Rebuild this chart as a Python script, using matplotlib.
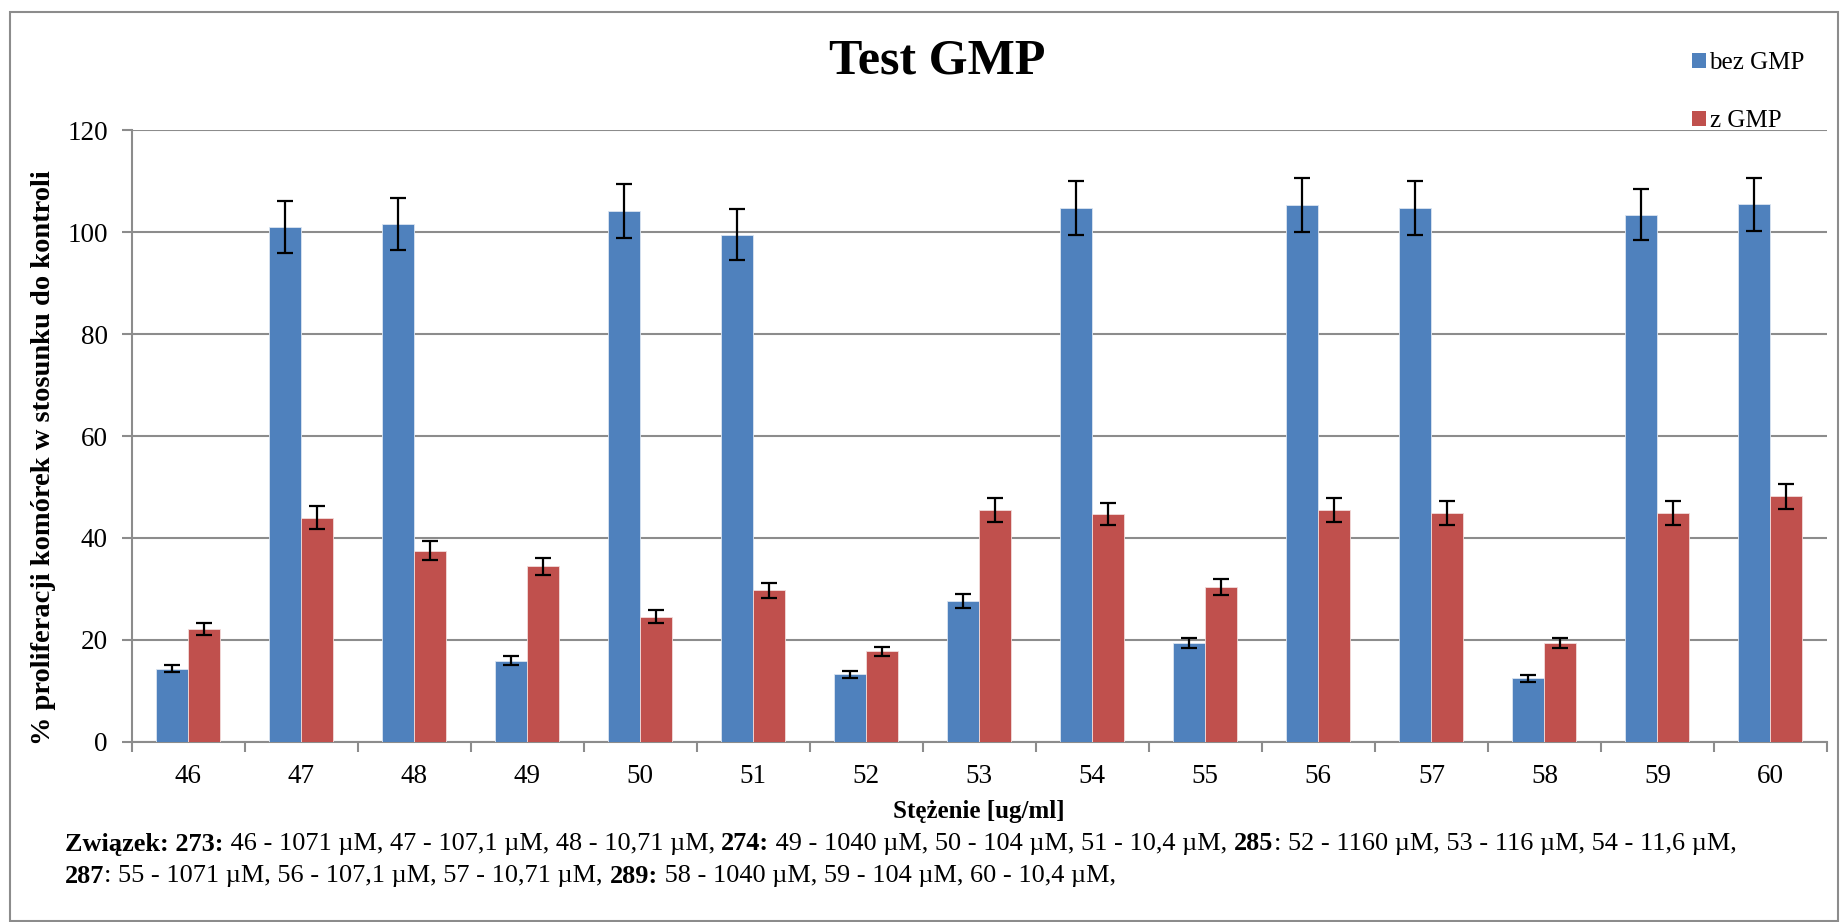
import matplotlib
matplotlib.use("Agg")
import matplotlib.pyplot as plt
from matplotlib.patches import Patch, Rectangle
import numpy as np

plt.rcParams['font.family'] = ['Liberation Serif', 'DejaVu Serif']

# Sample concentrations (category labels)
categories = ['46', '47', '48', '49', '50', '51', '52', '53', '54', '55',
              '56', '57', '58', '59', '60']

# % proliferation relative to control, without GMP
bez_gmp = [14.3, 101.1, 101.7, 15.9, 104.2, 99.5, 13.2, 27.6, 104.8, 19.4,
           105.3, 104.8, 12.4, 103.5, 105.5]
bez_gmp_err = [0.7, 5.1, 5.1, 0.85, 5.3, 5.0, 0.7, 1.45, 5.3, 1.0,
               5.3, 5.3, 0.65, 5.1, 5.2]

# % proliferation relative to control, with GMP
z_gmp = [22.1, 44.0, 37.5, 34.4, 24.5, 29.7, 17.7, 45.5, 44.7, 30.3,
         45.5, 44.9, 19.4, 44.9, 48.2]
z_gmp_err = [1.1, 2.25, 1.9, 1.75, 1.25, 1.5, 0.95, 2.3, 2.25, 1.55,
             2.3, 2.3, 1.0, 2.3, 2.45]

series_names = ['bez GMP', 'z GMP']
colors = ['#4F81BD', '#C0504D']
yticks = [0, 20, 40, 60, 80, 100, 120]

W, H = 1843, 922
fig = plt.figure(figsize=(W / 100, H / 100), dpi=100)

# Chart-area border
fig.patches.append(Rectangle((10 / W, 1 / H), (1838 - 10) / W, (910 - 1) / H,
                             transform=fig.transFigure, fill=False,
                             edgecolor='#8c8c8c', linewidth=1.5))

ax = fig.add_axes([131.5 / W, 1 - 741.6 / H, (1827 - 131.5) / W, (741.6 - 130.5) / H])

x = np.arange(len(categories))
bw = 0.283
err_kw = dict(ecolor='black', elinewidth=1.6, capsize=5.5, capthick=1.6)
ax.bar(x - bw / 2, bez_gmp, bw, yerr=bez_gmp_err, color=colors[0],
       edgecolor='#dbe5f1', linewidth=0.6, error_kw=err_kw, zorder=3)
ax.bar(x + bw / 2, z_gmp, bw, yerr=z_gmp_err, color=colors[1],
       edgecolor='#f2dcdb', linewidth=0.6, error_kw=err_kw, zorder=3)

ax.set_xlim(-0.5, len(categories) - 0.5)
ax.set_ylim(0, 120)
ax.set_yticks(yticks)
ax.set_yticklabels([str(v) for v in yticks], fontsize=19.5)
ax.yaxis.grid(True, color='#8c8c8c', linewidth=1.5, zorder=0)
ax.set_axisbelow(True)

# Category labels centred, tick marks on the boundaries
ax.set_xticks(x)
ax.set_xticklabels(categories, fontsize=19.5)
ax.tick_params(axis='x', which='major', length=0, pad=16)
ax.set_xticks(np.arange(len(categories) + 1) - 0.5, minor=True)
ax.tick_params(axis='x', which='minor', length=7, width=1.5, color='#8c8c8c', direction='out')
ax.tick_params(axis='y', length=7, width=1.5, color='#8c8c8c', direction='out', pad=10)

for side in ['top', 'right']:
    ax.spines[side].set_visible(False)
for side in ['left', 'bottom']:
    ax.spines[side].set_color('#8c8c8c')
    ax.spines[side].set_linewidth(1.5)

ax.set_ylabel('% proliferacji komórek w stosunku do kontroli', fontsize=20.5,
              fontweight='bold', labelpad=-3)
ax.yaxis.set_label_coords(-0.0445, 0.464)
ax.set_xlabel('Stężenie [ug/ml]', fontsize=18, fontweight='bold', labelpad=8)

fig.text(937 / W, 1 - 61 / H, 'Test GMP', fontsize=36, fontweight='bold',
         ha='center', va='center')

handles = [Patch(facecolor=c, edgecolor='none') for c in colors]
fig.legend(handles, series_names, loc='upper left',
           bbox_to_anchor=(1692 / W, 1 - 52 / H), frameon=False, fontsize=18,
           handlelength=0.55, handleheight=0.55, handletextpad=0.15,
           labelspacing=1.45, borderpad=0, borderaxespad=0)

# Compound / concentration note below the axis, with bold compound numbers
lines = [
    [("Związek: 273:", True), (" 46 - 1071 µM, 47 - 107,1 µM, 48 - 10,71 µM, ", False),
     ("274:", True), (" 49 - 1040 µM, 50 - 104 µM, 51 - 10,4 µM, ", False),
     ("285", True), (": 52 - 1160 µM, 53 - 116 µM, 54 - 11,6 µM,", False)],
    [("287", True), (": 55 - 1071 µM, 56 - 107,1 µM, 57 - 10,71 µM, ", False),
     ("289:", True), (" 58 - 1040 µM, 59 - 104 µM, 60 - 10,4 µM,", False)],
]
line_y = [844, 876]
fig.canvas.draw()
renderer = fig.canvas.get_renderer()
for segs, yy in zip(lines, line_y):
    xpos = 65
    for s, bold in segs:
        t = fig.text(xpos / W, 1 - yy / H, s, fontsize=18.9,
                     fontweight='bold' if bold else 'normal', ha='left', va='center')
        bb = t.get_window_extent(renderer=renderer)
        xpos += bb.width

fig.savefig('out.png', dpi=100)
